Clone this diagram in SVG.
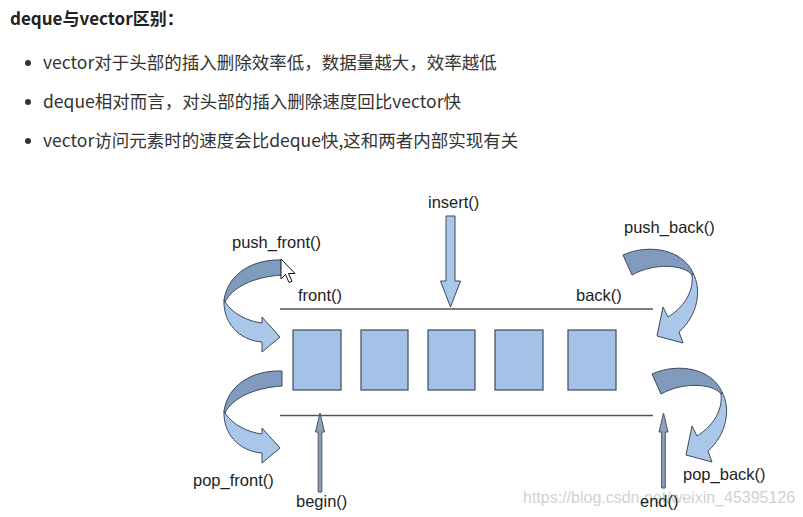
<svg xmlns="http://www.w3.org/2000/svg" width="803" height="517" viewBox="0 0 803 517">
  <style>
    .cjk { font-family: "Noto Sans CJK SC", "Noto Sans", sans-serif; fill: #333; }
    .title { font-size: 17px; font-weight: bold; fill: #222; }
    .bul { font-size: 17.5px; }
    .lbl { font-family: "Liberation Sans", Arial, sans-serif; font-size: 16.5px; fill: #1e1e1e; }
    .box { fill: #a4c2e8; stroke: #3d4a5c; stroke-width: 1.2; }
    .rail { stroke: #555; stroke-width: 1.6; fill: none; }
    .dark { fill: #809bbe; stroke: #3d4a5c; stroke-width: 1; stroke-linejoin: round; }
    .light { fill: #aac6e8; stroke: #3d4a5c; stroke-width: 1; stroke-linejoin: round; }
    .thin { fill: #8ea2bc; stroke: #4a5260; stroke-width: 1; }
    .wm { font-family: "Liberation Sans", Arial, sans-serif; font-size: 16px; fill: #d2d2d2; }
  </style>
  <defs>
    <g id="curveLeft">
      <path class="light" d="M224,300 C223,322 238,340 262,342 L262,352 L280,337 L262,317 L262,323 C247,321 233,314 225,302 Z"/>
      <path class="dark" d="M282,260 C252,259 228,274 224,300 L225,302 C232,288 252,277 282,275 Z"/>
    </g>
    <g id="curveRight">
      <path class="light" d="M693,273 C702,290 698,315 679,332 L683,343 L657,336 L663,307 L668,317 C683,308 694,292 692,275 Z"/>
      <path class="dark" d="M623,255 C650,243 683,250 693,273 L692,275 C685,265 655,262 632,275 Z"/>
    </g>
  </defs>
  <rect width="803" height="517" fill="#ffffff"/>

  <g id="heading">
    <text class="cjk title" x="10" y="25">deque与vector区别：</text>
    <circle cx="28" cy="63" r="3" fill="#333"/>
    <text class="cjk bul" x="43" y="69">vector对于头部的插入删除效率低，数据量越大，效率越低</text>
    <circle cx="28" cy="102" r="3" fill="#333"/>
    <text class="cjk bul" x="43" y="108">deque相对而言，对头部的插入删除速度回比vector快</text>
    <circle cx="28" cy="141" r="3" fill="#333"/>
    <text class="cjk bul" x="43" y="147">vector访问元素时的速度会比deque快,这和两者内部实现有关</text>
  </g>

  <g id="connectors">
    <line class="rail" x1="280" y1="309" x2="653" y2="309"/>
    <line class="rail" x1="280" y1="415.5" x2="653" y2="415.5"/>
    <polygon class="light" points="446,216 455,216 455,281 460.5,281 450.5,307 440.5,281 446,281"/>
    <polygon class="thin" points="320,413 324.5,432 321.8,432 321.8,492 318.2,492 318.2,432 315.5,432"/>
    <polygon class="thin" points="663.5,413 668,432 665.3,432 665.3,488 661.7,488 661.7,432 659,432"/>
    <use href="#curveLeft"/>
    <use href="#curveLeft" transform="translate(0,111)"/>
    <use href="#curveRight"/>
    <use href="#curveRight" transform="translate(29,119)"/>
  </g>

  <g id="box1"><rect class="box" x="293" y="330" width="48" height="60"/></g>
  <g id="box2"><rect class="box" x="361" y="330" width="47" height="60"/></g>
  <g id="box3"><rect class="box" x="428" y="330" width="47" height="60"/></g>
  <g id="box4"><rect class="box" x="495" y="330" width="48" height="60"/></g>
  <g id="box5"><rect class="box" x="568" y="330" width="48" height="60"/></g>

  <text class="wm" x="523" y="503">https://blog.csdn.net/weixin_45395126</text>

  <g id="labels">
    <text class="lbl" x="428" y="208">insert()</text>
    <text class="lbl" x="232" y="248">push_front()</text>
    <text class="lbl" x="298" y="301">front()</text>
    <text class="lbl" x="576" y="301">back()</text>
    <text class="lbl" x="624" y="233">push_back()</text>
    <text class="lbl" x="193" y="486">pop_front()</text>
    <text class="lbl" x="683" y="480">pop_back()</text>
    <text class="lbl" x="296" y="507">begin()</text>
    <text class="lbl" x="640" y="507">end()</text>
  </g>

  <g id="cursor">
    <polygon points="281,259 281,279 285.5,274.5 289,282.5 292,281.3 288.5,273.5 295,273.5" fill="#ffffff" stroke="#111" stroke-width="1" stroke-linejoin="round"/>
  </g>
</svg>
